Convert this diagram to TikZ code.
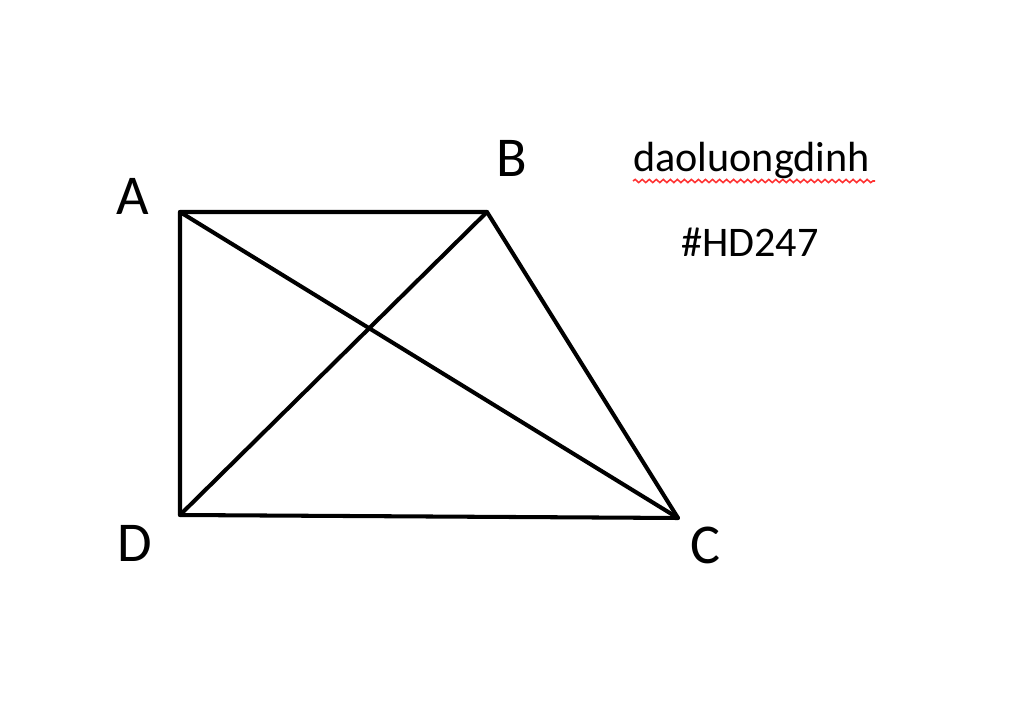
\documentclass[tikz,border=0pt]{standalone}
\usepackage{fontspec}
\usepackage{tkz-euclide}
\usetikzlibrary{decorations.pathmorphing}
\setmainfont{Carlito}

\tikzset{
  vertex/.style={font=\fontsize{32}{36}\selectfont, inner sep=0pt},
  note/.style={font=\fontsize{24}{28}\selectfont, inner sep=0pt},
  spell/.style={red!80!white, line width=0.9pt, decorate,
    decoration={snake, amplitude=0.9pt, segment length=4pt}}
}

\begin{document}
\begin{tikzpicture}
    \useasboundingbox (0,0) rectangle (20.48,14.54);
    \tkzDefPoints{3.6/10.3/A, 9.74/10.3/B, 13.56/4.18/C, 3.6/4.24/D}
    \tkzDrawPolygon[line width=2.3pt](A,B,C,D)
    \tkzDrawSegments[line width=2.3pt](A,C B,D)
    \node[vertex] (labA) at (2.66,10.62) {A};
    \node[vertex] (labB) at (10.24,11.38) {B};
    \node[vertex] (labC) at (14.1,3.64) {C};
    \node[vertex] (labD) at (2.7,3.68) {D};
    \node[note] (name) at (15.03,11.34) {daoluongdinh};
    \node[note] (tag) at (15.0,9.7) {\#HD247};
    \draw[spell] (12.66,10.92) -- (17.5,10.92);
\end{tikzpicture}
\end{document}
